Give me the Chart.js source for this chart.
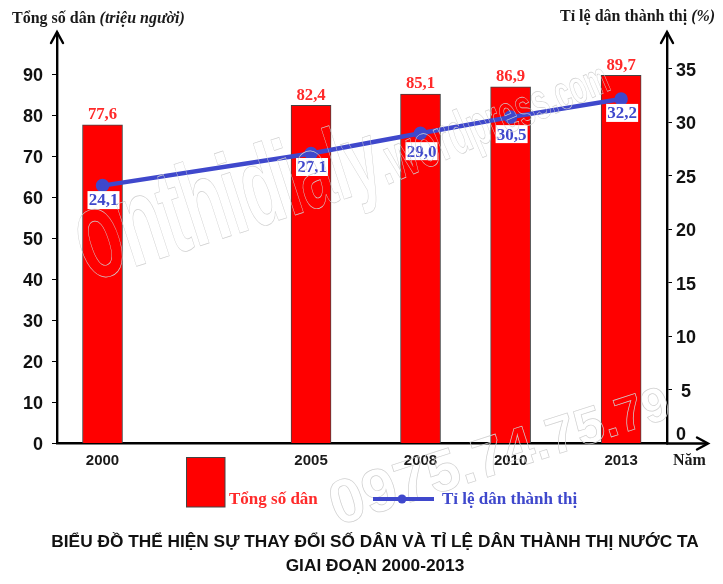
<!DOCTYPE html>
<html><head><meta charset="utf-8">
<style>html,body{margin:0;padding:0;background:#fff}canvas{display:block}</style>
<script src="https://cdn.jsdelivr.net/npm/chart.js@4"></script>
</head><body><canvas id="c" width="723" height="584"></canvas>
<script>
const years = ['2000','2005','2008','2010','2013'];
const yearSlots = [0, 2, 3.05, 3.914, 4.974];
const population = [77.6, 82.4, 85.1, 86.9, 89.7];
const urbanRate = [24.1, 27.1, 29.0, 30.5, 32.2];
const popTicks = [0,10,20,30,40,50,60,70,80,90];
const rateTicks = [0,5,10,15,20,25,30,35];
const fmt = v => v.toFixed(1).replace('.', ',');
const RED = '#ff0000', BLUE = '#3f48cc', LABEL_RED = '#ff2a2a';
const SERIF = '"Liberation Serif"', SANS = '"Liberation Sans"';

const decor = {
  id: 'decor',
  afterDatasetsDraw(chart) {
    const { ctx, chartArea: a, scales: { x, yL, yR } } = chart;
    const arrow = (px, py, dx, dy) => {
      ctx.beginPath();
      ctx.moveTo(px - dx * 11 - dy * 6, py - dy * 11 - dx * 6);
      ctx.lineTo(px, py);
      ctx.lineTo(px - dx * 11 + dy * 6, py - dy * 11 + dx * 6);
      ctx.stroke();
    };
    ctx.save();
    ctx.strokeStyle = '#000'; ctx.lineWidth = 2.4; ctx.lineCap = 'round';
    ctx.beginPath(); ctx.moveTo(a.right, a.bottom); ctx.lineTo(707, a.bottom); ctx.stroke();
    arrow(708, a.bottom, 1, 0);
    arrow(a.left, a.top - 1, 0, -1);
    arrow(a.right, a.top - 1, 0, -1);
    ctx.lineCap = 'butt';

    // value labels
    ctx.textAlign = 'center'; ctx.textBaseline = 'middle';
    const rateDrop = [14.5, 13.5, 18, 17, 14];
    ctx.font = 'bold 16.7px ' + SERIF;
    population.forEach((v, i) => {
      ctx.fillStyle = LABEL_RED;
      ctx.fillText(fmt(v), x.getPixelForValue(yearSlots[i]), yL.getPixelForValue(v) - 10);
    });
    ctx.font = 'bold 17px ' + SERIF;
    urbanRate.forEach((v, i) => {
      const px = x.getPixelForValue(yearSlots[i]) + 1, py = yR.getPixelForValue(v) + rateDrop[i];
      ctx.fillStyle = '#fff';
      ctx.fillRect(px - 16, py - 9, 32, 18);
      ctx.fillStyle = BLUE;
      ctx.fillText(fmt(v), px, py + 1);
    });

    // watermark, letters shrink along the baseline
    ctx.strokeStyle = '#d0d0d0'; ctx.lineWidth = 0.7;
    const mark = (t, px, py, sizeAt, degAt, sx) => {
      ctx.textAlign = 'left'; ctx.textBaseline = 'alphabetic';
      [...t].forEach((ch, i) => {
        const size = sizeAt(i), rad = degAt(i) * Math.PI / 180;
        ctx.font = 'bold ' + size + 'px ' + SANS;
        const w = ctx.measureText(ch).width * sx;
        ctx.save();
        ctx.translate(px, py); ctx.rotate(rad); ctx.scale(sx, 1);
        ctx.strokeText(ch, 0, 0);
        ctx.restore();
        px += w * Math.cos(rad); py += w * Math.sin(rad);
      });
    };
    mark('onthidialy.wordpress.com', 89, 282,
      i => i < 10 ? 127 - i * 3 : 66 - (i - 10) * 1.6,
      i => i < 10 ? -18 : -23, 0.58);
    mark('0975.74.75.79', 337, 526, i => 62 - i * 1.15, () => -18, 1);

    // titles
    const runs = (parts, px, py) => {
      ctx.textAlign = 'left'; ctx.textBaseline = 'middle'; ctx.fillStyle = '#1a1a1a';
      parts.forEach(([t, f]) => { ctx.font = f; ctx.fillText(t, px, py); px += ctx.measureText(t).width; });
    };
    const B = 'bold 16px ' + SERIF, I = 'italic bold 16px ' + SERIF;
    runs([['Tổng số dân ', B], ['(triệu người)', I]], 12, 19);
    runs([['Tỉ lệ dân thành thị ', B], ['(%)', I]], 560, 17);
    runs([['Năm', 'bold 16px ' + SERIF]], 673, 461);

    // legend
    ctx.fillStyle = RED; ctx.strokeStyle = '#444'; ctx.lineWidth = 1;
    ctx.fillRect(186, 457, 39, 50); ctx.strokeRect(186.5, 457.5, 38.5, 49.5);
    ctx.font = 'bold 17px ' + SERIF; ctx.fillStyle = LABEL_RED;
    ctx.fillText('Tổng số dân', 229, 500);
    ctx.strokeStyle = BLUE; ctx.lineWidth = 4;
    ctx.beginPath(); ctx.moveTo(373, 499); ctx.lineTo(434, 499); ctx.stroke();
    ctx.fillStyle = BLUE;
    ctx.beginPath(); ctx.arc(402, 499, 4.5, 0, 7); ctx.fill();
    ctx.fillText('Tỉ lệ dân thành thị', 442, 500);

    // chart caption
    ctx.textAlign = 'center'; ctx.fillStyle = '#111';
    ctx.font = 'bold 17.3px ' + SANS;
    ctx.fillText('BIỂU ĐỒ THỂ HIỆN SỰ THAY ĐỔI SỐ DÂN VÀ TỈ LỆ DÂN THÀNH THỊ NƯỚC TA', 375, 542);
    ctx.fillText('GIAI ĐOẠN 2000-2013', 375, 566);
    ctx.restore();
  }
};

new Chart(document.getElementById('c'), {
  data: {
    datasets: [
      { type: 'line', label: 'Tỉ lệ dân thành thị', order: 0, yAxisID: 'yR', xAxisID: 'x',
        data: urbanRate.map((v, i) => ({ x: yearSlots[i], y: v })),
        borderColor: BLUE, backgroundColor: BLUE, borderWidth: 4.5, tension: 0,
        pointRadius: 4.5, pointBackgroundColor: BLUE, pointBorderColor: BLUE },
      { type: 'bar', label: 'Tổng số dân', order: 1, yAxisID: 'yL', xAxisID: 'x',
        data: population.map((v, i) => ({ x: yearSlots[i], y: v })),
        backgroundColor: RED, borderColor: '#444', borderWidth: 1, barThickness: 40 }
    ]
  },
  options: {
    responsive: false, animation: false, devicePixelRatio: 1,
    layout: { padding: { left: 0, right: 0, top: 33, bottom: 110.5 } },
    plugins: { legend: { display: false }, tooltip: { enabled: false } },
    scales: {
      x: {
        type: 'linear', offset: false, min: -0.4365, max: 5.414,
        afterBuildTicks(s) { s.ticks = yearSlots.map(v => ({ value: v })); },
        afterFit(s) { s.height = 30; },
        grid: { display: false },
        border: { display: true, color: '#000', width: 2.4 },
        ticks: { autoSkip: false, maxRotation: 0, padding: 0, color: '#1a1a1a',
          font: { family: SANS, size: 15, weight: 'bold' },
          callback: (v, i) => years[i] }
      },
      yL: {
        position: 'left', min: 0, max: 100,
        afterBuildTicks(s) { s.ticks = popTicks.map(v => ({ value: v })); },
        afterFit(s) { s.width = 57; },
        grid: { drawOnChartArea: false, tickLength: 5, color: '#000' },
        border: { display: true, color: '#000', width: 2.4 },
        ticks: { padding: 9, color: '#111', font: { family: SANS, size: 18, weight: 'bold', lineHeight: '4px' },
          callback: v => ['', String(v)] }
      },
      yR: {
        position: 'right', min: 0, max: 38.36,
        afterBuildTicks(s) { s.ticks = rateTicks.map(v => ({ value: v })); },
        afterFit(s) { s.width = 56; },
        grid: { drawOnChartArea: false, tickLength: 5, color: '#000' },
        border: { display: true, color: '#000', width: 2.4 },
        ticks: { padding: 4, color: '#111', font: { family: SANS, size: 18, weight: 'bold', lineHeight: '4px' },
          callback: v => v === 0 ? ['0', '', '', '', ''] : ['', v === 5 ? ' 5' : String(v)] }
      }
    }
  },
  plugins: [decor]
});
</script></body></html>
